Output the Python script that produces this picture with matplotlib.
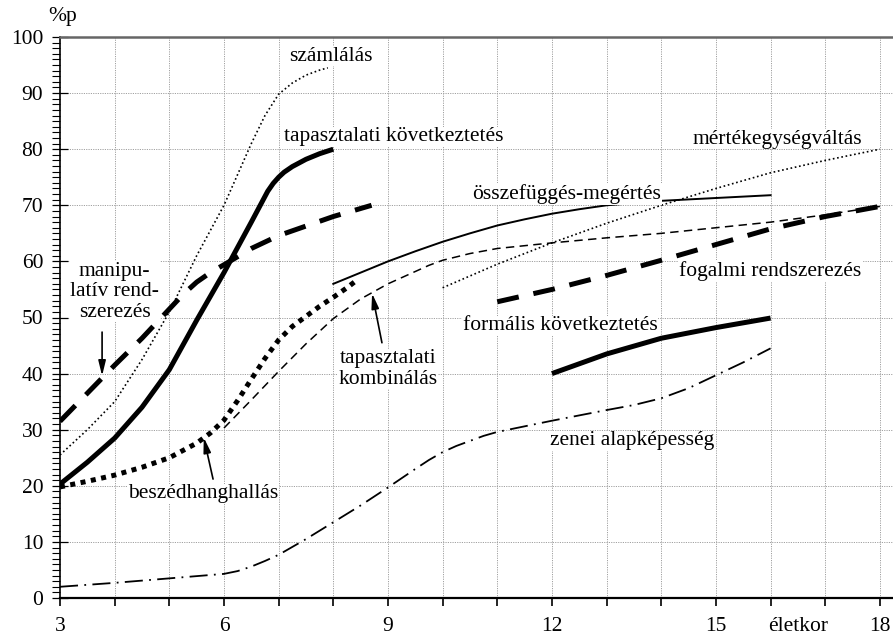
import matplotlib
matplotlib.use("Agg")
import matplotlib.pyplot as plt
from matplotlib.ticker import MultipleLocator, FixedLocator

plt.rcParams['font.family'] = ['Liberation Serif', 'DejaVu Serif']

# ---- data ----
szamlalas_x = [3, 3.5, 4, 4.5, 5, 5.5, 6, 6.5, 6.75, 7, 7.25, 7.5, 7.75, 7.9]
szamlalas_y = [25.5, 30, 35, 42.5, 51, 61, 70, 81, 86, 89.8, 91.8, 93.2, 94.1, 94.5]

tapkov_x = [3, 3.5, 4, 4.5, 5, 5.5, 6, 6.5, 6.8, 6.9, 7, 7.1, 7.25, 7.5, 7.75, 8]
tapkov_y = [20.3, 24.2, 28.5, 34, 40.7, 49.5, 58, 67, 72.5, 73.9, 75, 75.9, 76.9, 78.2, 79.2, 80]

manip_x = [3, 3.5, 4, 4.5, 5, 5.25, 5.5, 5.75, 6, 6.5, 7, 7.5, 8, 8.7]
manip_y = [31.5, 36.5, 41.5, 46.3, 51.5, 54.1, 56.3, 58, 59.4, 62.3, 64.6, 66.3, 68, 70]

beszed_x = [3, 3.5, 4, 4.5, 5, 5.5, 5.75, 6, 6.25, 6.5, 6.75, 7, 7.25, 7.5, 7.75, 8, 8.25, 8.45]
beszed_y = [19.8, 20.8, 21.9, 23.3, 25, 27.6, 29.4, 31.7, 35.2, 39, 42.7, 46, 48.4, 50.2, 52, 53.6, 55.3, 56.8]

komb_x = [6, 6.5, 7, 7.5, 8, 8.5, 9, 9.5, 9.75, 10, 10.5, 11, 12, 13, 14, 15, 16, 17, 18]
komb_y = [30.3, 35.3, 40.4, 45.3, 49.8, 53.3, 56, 58.2, 59.3, 60.2, 61.4, 62.3, 63.3, 64.2, 65, 66, 67, 68.3, 69.8]

osszef_x = [8, 8.5, 9, 9.5, 10, 10.5, 11, 11.5, 12, 12.5, 13, 13.5, 14, 15, 16]
osszef_y = [56, 58, 60, 61.8, 63.5, 65, 66.4, 67.5, 68.5, 69.3, 70, 70.4, 70.8, 71.3, 71.8]

mertek_x = [10, 11, 12, 13, 14, 15, 16, 17, 18]
mertek_y = [55.3, 59.5, 63.3, 66.8, 70, 73, 75.8, 78, 80]

fogalmi_x = [11, 12, 13, 14, 15, 16, 17, 18]
fogalmi_y = [52.8, 55, 57.5, 60.2, 63, 65.8, 68, 69.8]

formalis_x = [12, 13, 14, 15, 16]
formalis_y = [40, 43.5, 46.3, 48.2, 49.9]

zenei_x = [3, 4, 5, 6, 6.25, 6.5, 6.75, 7, 7.5, 8, 8.5, 9, 9.5, 9.75, 10, 10.25, 10.5, 10.75, 11, 12, 13, 13.5, 14, 14.5, 15, 15.5, 16]
zenei_y = [2, 2.7, 3.5, 4.3, 4.8, 5.6, 6.6, 7.7, 10.5, 13.5, 16.5, 19.7, 23, 24.6, 26, 27.1, 28, 28.9, 29.6, 31.6, 33.5, 34.4, 35.6, 37.4, 39.7, 42, 44.5]

x_tick_labels = ['3', '6', '9', '12', '15', '18']
y_tick_labels = ['0', '10', '20', '30', '40', '50', '60', '70', '80', '90', '100']

FS = 15.5

fig = plt.figure(figsize=(8.93, 6.36), dpi=100)
ax = fig.add_axes([60/893, 38/636, 1 - 60/893, (598-37)/636])
ax.set_xlim(3, 18.24)
ax.set_ylim(0, 100)

# grid
gcol = '#a0a0a0'
for yv in range(10, 100, 10):
    ax.axhline(yv, color=gcol, lw=0.7, ls=(0, (1.2, 1.2)), zorder=0)
for xv in range(4, 19):
    ax.axvline(xv, color=gcol, lw=0.7, ls=(0, (1.2, 1.2)), zorder=0)

# spines
ax.spines['right'].set_visible(False)
ax.spines['top'].set_color('#666666')
ax.spines['top'].set_linewidth(1.8)
ax.spines['left'].set_linewidth(1.2)
ax.spines['bottom'].set_linewidth(1.6)

# ticks
ax.yaxis.set_minor_locator(MultipleLocator(1))
ax.set_yticks(range(0, 101, 10))
ax.set_yticklabels(y_tick_labels, fontsize=FS)
ax.tick_params(axis='y', which='major', direction='inout', length=11, width=0.9, pad=6.5)
ax.tick_params(axis='y', which='minor', direction='out', length=5.5, width=0.8)

ax.xaxis.set_major_locator(FixedLocator(range(3, 19)))
labs = {3: x_tick_labels[0], 6: x_tick_labels[1], 9: x_tick_labels[2],
        12: x_tick_labels[3], 15: x_tick_labels[4], 18: x_tick_labels[5]}
ax.set_xticklabels([labs.get(v, '') for v in range(3, 19)], fontsize=FS)
ax.tick_params(axis='x', which='major', direction='out', length=6, width=1.2, pad=8)

ax.annotate('életkor', xy=(16.5, 0), xycoords=('data', 'axes fraction'),
            xytext=(0, -14), textcoords='offset points', ha='center', va='top', fontsize=FS)
ax.annotate('%p', xy=(0, 1), xycoords='axes fraction', xytext=(2, 8),
            textcoords='offset points', ha='center', va='bottom', fontsize=FS)

# curves
ax.plot(szamlalas_x, szamlalas_y, color='black', lw=1.2, ls=(0, (1, 1.6)), zorder=3)
ax.plot(tapkov_x, tapkov_y, color='black', lw=3.6, solid_joinstyle='round', solid_capstyle='butt', zorder=3)
ax.plot(manip_x, manip_y, color='black', lw=3.6, ls=(0, (4.4, 3.0)), dash_capstyle='butt', zorder=3)
ax.plot(beszed_x, beszed_y, color='black', lw=3.6, ls=(0, (1, 1.1)), dash_capstyle='butt', zorder=3)
ax.plot(komb_x, komb_y, color='black', lw=1.1, ls=(0, (5.5, 3.5)), zorder=3)
ax.plot(osszef_x, osszef_y, color='black', lw=1.4, solid_joinstyle='round', zorder=3)
ax.plot(mertek_x, mertek_y, color='black', lw=1.2, ls=(0, (1, 1.6)), zorder=3)
ax.plot(fogalmi_x, fogalmi_y, color='black', lw=3.6, ls=(0, (4.4, 3.0)), dash_capstyle='butt', zorder=3)
ax.plot(formalis_x, formalis_y, color='black', lw=3.6, solid_joinstyle='round', solid_capstyle='butt', zorder=3)
ax.plot(zenei_x, zenei_y, color='black', lw=1.3, ls=(0, (10, 3.5, 1, 3.5)), zorder=3)

bb = dict(facecolor='white', edgecolor='none', pad=0.5)
def lab(x, y, s):
    ax.text(x, y, s, ha='center', va='center', fontsize=FS, bbox=bb, zorder=5, linespacing=1.1)

lab(7.96, 96.6, 'számlálás')
lab(9.11, 82.2, 'tapasztalati következtetés')
lab(12.27, 72.0, 'összefüggés-megértés')
lab(16.13, 81.8, 'mértékegységváltás')
lab(4.0, 54.6, 'manipu-\nlatív rend-\nszerezés')
lab(5.62, 18.6, 'beszédhanghallás')
lab(9.0, 40.8, 'tapasztalati\nkombinálás')
lab(15.99, 58.3, 'fogalmi rendszerezés')
lab(12.15, 48.5, 'formális következtetés')
lab(13.46, 28.0, 'zenei alapképesség')

arr = dict(arrowstyle='-|>,head_length=0.9,head_width=0.22', color='black', lw=1.2,
           shrinkA=0, shrinkB=0)
ax.annotate('', xy=(3.77, 39.6), xytext=(3.77, 47.4), arrowprops=arr, zorder=6)
ax.annotate('', xy=(5.63, 28.6), xytext=(5.8, 21.2), arrowprops=arr, zorder=6)
ax.annotate('', xy=(8.71, 54.3), xytext=(8.89, 45.5), arrowprops=arr, zorder=6)

fig.savefig('out.png', dpi=100)
